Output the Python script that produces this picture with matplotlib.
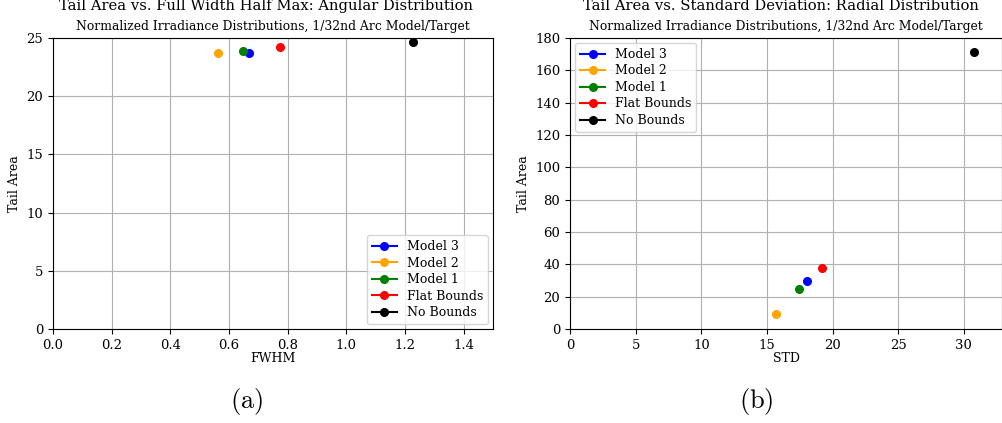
import matplotlib.pyplot as plt

plt.rcParams['font.family'] = 'DejaVu Serif'
plt.rcParams['mathtext.fontset'] = 'cm'

labels = ['Model 3', 'Model 2', 'Model 1', 'Flat Bounds', 'No Bounds']
colors = ['blue', 'orange', 'green', 'red', 'black']

# angular distribution
fwhm = [0.668, 0.562, 0.647, 0.773, 1.226]
tail_ang = [23.7, 23.7, 23.85, 24.2, 24.65]

# radial distribution
std = [18.05, 15.69, 17.44, 19.19, 30.77]
tail_rad = [29.7, 9.3, 24.7, 37.7, 171.3]

fig = plt.figure(figsize=(10.02, 4.23), dpi=100)

ax1 = fig.add_axes([0.0529, 0.2222, 0.4391, 0.688])
ax2 = fig.add_axes([0.5689, 0.2222, 0.4311, 0.688])

for i in range(len(labels)):
    ax1.plot([fwhm[i]], [tail_ang[i]], 'o-', color=colors[i], label=labels[i], markersize=5.5)
    ax2.plot([std[i]], [tail_rad[i]], 'o-', color=colors[i], label=labels[i], markersize=5.5)

ax1.set_xlim(0, 1.5)
ax1.set_ylim(0, 25)
ax1.set_xticks([0.0, 0.2, 0.4, 0.6, 0.8, 1.0, 1.2, 1.4])
ax1.set_xlabel('FWHM', fontsize=9, labelpad=0)
ax1.set_ylabel('Tail Area', fontsize=9)
ax1.set_title('Normalized Irradiance Distributions, 1/32nd Arc Model/Target', fontsize=8.9, pad=6)
ax1.legend(loc='lower right', fontsize=9, handlelength=2.0, labelspacing=0.28,
           borderaxespad=0.4)
ax1.grid(True)

ax2.set_xlim(0, 32.9)
ax2.set_ylim(0, 180)
ax2.set_xticks([0, 5, 10, 15, 20, 25, 30])
ax2.set_yticks(range(0, 181, 20))
ax2.set_xlabel('STD', fontsize=9, labelpad=0)
ax2.set_ylabel('Tail Area', fontsize=9)
ax2.set_title('Normalized Irradiance Distributions, 1/32nd Arc Model/Target', fontsize=8.9, pad=6)
ax2.legend(loc='upper left', fontsize=9, handlelength=2.0, labelspacing=0.28,
           borderaxespad=0.4)
ax2.grid(True)

for ax in (ax1, ax2):
    ax.tick_params(labelsize=9.5)

fig.text(0.265, 0.985, 'Tail Area vs. Full Width Half Max: Angular Distribution',
         ha='center', va='center', fontsize=10.6)
fig.text(0.779, 0.985, 'Tail Area vs. Standard Deviation: Radial Distribution',
         ha='center', va='center', fontsize=10.6)

fig.text(0.2465, 0.05, r'$\mathrm{(a)}$', ha='center', va='center', fontsize=19)
fig.text(0.7545, 0.05, r'$\mathrm{(b)}$', ha='center', va='center', fontsize=19)

fig.savefig('out.png', dpi=100)
